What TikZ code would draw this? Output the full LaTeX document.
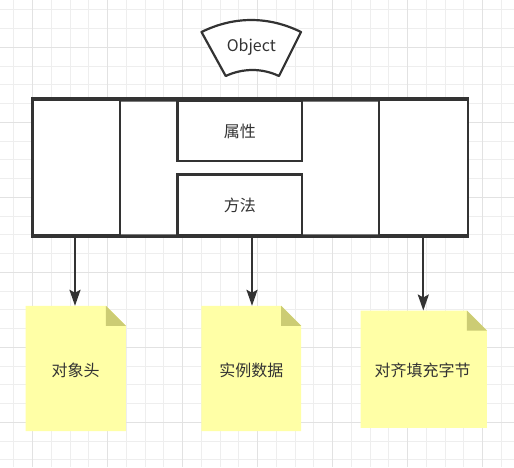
\documentclass[tikz,border=0pt]{standalone}
\usepackage{fontspec}
\setmainfont{Noto Sans CJK SC}
\usetikzlibrary{arrows.meta}
\definecolor{ink}{HTML}{333333}
\definecolor{gridminor}{HTML}{EEEEEE}
\definecolor{gridmajor}{HTML}{E2E2E2}
\definecolor{notefill}{HTML}{FFFFA6}
\definecolor{notefold}{HTML}{CCCC74}
\tikzset{
  label/.style={text=ink, font=\fontsize{16}{19}\selectfont},
  note/.style={draw=none, fill=none, inner sep=0pt},
  link/.style={draw=ink, line width=2.2pt, -{Stealth[length=16pt, width=11pt, inset=3pt]}},
}
\begin{document}
\begin{tikzpicture}[x=1pt, y=-1pt]
  % canvas and grid
  \fill[white] (0,0) rectangle (514,467);
  \useasboundingbox (0,0) rectangle (514,467);
  \foreach \k in {0,...,27} {
    \draw[gridminor, line width=1pt] ({13.95+18.75*\k},0) -- ({13.95+18.75*\k},467);
  }
  \foreach \k in {0,...,24} {
    \draw[gridminor, line width=1pt] (0,{9.8+18.75*\k}) -- (514,{9.8+18.75*\k});
  }
  \foreach \k in {0,...,6} {
    \draw[gridmajor, line width=1pt] ({32.7+75*\k},0) -- ({32.7+75*\k},467);
  }
  \foreach \k in {0,...,5} {
    \draw[gridmajor, line width=1pt] (0,{47.3+75*\k}) -- (514,{47.3+75*\k});
  }

  % Object header shape with curved top and bottom
  \draw[draw=ink, line width=2.2pt, fill=white, line join=round]
    (201.5,32) .. controls (234,16) and (268.5,16) .. (301,32)
    -- (279,76) .. controls (262,68) and (243,68) .. (225.7,76) -- cycle;
  \node[label] (object) at (251.3,47) {Object};

  % object body
  \node[draw=ink, line width=2.6pt, fill=white, minimum width=435.5pt, minimum height=135.5pt, inner sep=0pt]
    (body) at (250.25,167.75) {};
  \node[draw=ink!65, line width=0.9pt, fill=white, minimum width=259pt, minimum height=133pt, inner sep=0pt]
    (middle) at (249.5,167.75) {};
  \node[draw=ink, line width=2.4pt, fill=white, minimum width=87.5pt, minimum height=135.5pt, inner sep=0pt]
    (header) at (76.25,167.75) {};
  \node[draw=ink, line width=2.4pt, fill=white, minimum width=89pt, minimum height=135.5pt, inner sep=0pt]
    (padding) at (423.5,167.75) {};
  \node[draw=ink, line width=2.4pt, fill=white, minimum width=124.5pt, minimum height=60pt, inner sep=0pt, label]
    (fields) at (239.75,131) {属性};
  \node[draw=ink, line width=2.4pt, fill=white, minimum width=124.5pt, minimum height=61pt, inner sep=0pt, label]
    (methods) at (239.75,205) {方法};
  \draw[draw=ink, line width=2.8pt] (body.north west) -- (body.north east);
  \draw[draw=ink, line width=2.8pt] (body.south west) -- (body.south east);

  % notes
  \node[note, minimum width=100pt, minimum height=125pt] (n1) at (75.7,368.5) {};
  \node[note, minimum width=99.3pt, minimum height=125pt] (n2) at (251.3,368.5) {};
  \node[note, minimum width=126pt, minimum height=117pt] (n3) at (423.7,369.2) {};
  \foreach \n in {n1,n2,n3} {
    \fill[notefill] (\n.south west) -- (\n.north west) -- ([xshift=-20pt]\n.north east)
      -- ([yshift=-20pt]\n.north east) -- (\n.south east) -- cycle;
    \fill[notefold] ([xshift=-20pt]\n.north east) -- ([yshift=-20pt]\n.north east)
      -- ([xshift=-20pt, yshift=-20pt]\n.north east) -- cycle;
  }
  \node[label] (t1) at (75.7,370.5) {对象头};
  \node[label] (t2) at (251.3,370.5) {实例数据};
  \node[label] (t3) at (422.5,370) {对齐填充字节};

  % connectors
  \coordinate (s1) at (75,235.5);
  \coordinate (s2) at (252,235.5);
  \coordinate (s3) at (423.3,235.5);
  \draw[link] (s1) -- (s1 |- n1.north);
  \draw[link] (s2) -- (s2 |- n2.north);
  \draw[link] (s3) -- (s3 |- n3.north);
\end{tikzpicture}
\end{document}
